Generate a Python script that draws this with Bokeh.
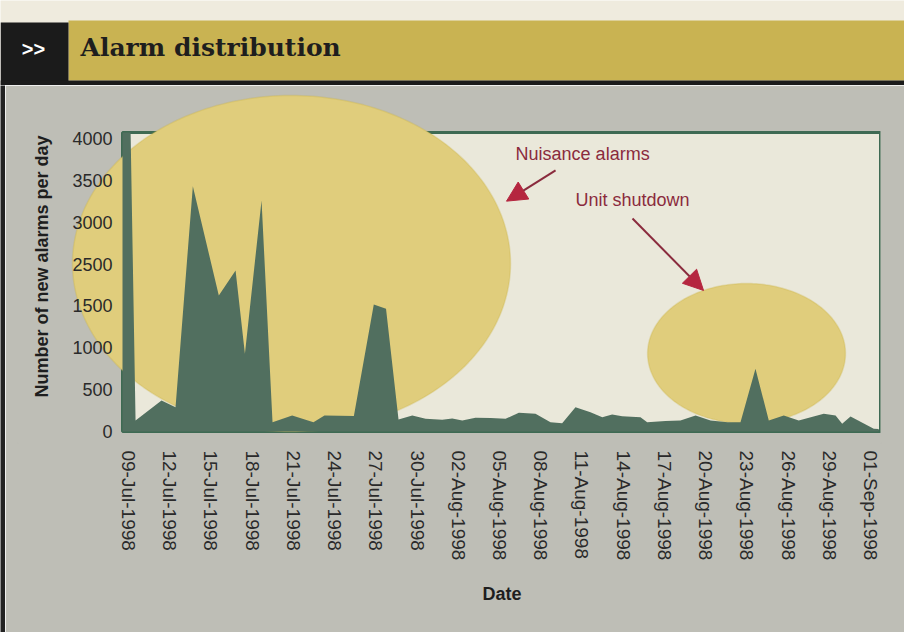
import numpy as np
import pandas as pd
from bokeh.plotting import figure
from bokeh.layouts import column, row
from bokeh.models import (Range1d, FixedTicker, DatetimeTickFormatter, PolyAnnotation,
                          Label, Arrow, NormalHead, Title)
from bokeh.embed import file_html
from bokeh.resources import INLINE

# ---------------- data ----------------
start_date = "1998-07-09"
# sample position in days after 09-Jul-1998
day_offsets = [-0.44, 0.15, 0.51, 2.4, 3.42, 4.68, 6.57, 7.79, 8.47, 9.68, 10.48, 11.91,
               13.46, 14.26, 16.4, 17.85, 18.74, 19.65, 20.65, 21.62, 22.83, 23.56, 24.29,
               25.25, 26.35, 27.44, 28.41, 29.62, 30.71, 31.56, 32.53, 33.62, 34.48, 35.2,
               35.93, 37.26, 37.75, 39.08, 40.17, 41.27, 42.36, 43.6, 44.54, 45.63, 46.6,
               47.69, 48.78, 50.6, 51.46, 51.94, 52.55, 54.24, 54.6]
new_alarms = [4080, 4080, 150, 423, 332, 3348, 1856, 2198, 1060, 3153, 127, 218,
              127, 218, 212, 1734, 1675, 164, 218, 173, 160, 177, 150,
              187, 184, 173, 255, 242, 127, 113, 332, 263, 195, 232,
              209, 195, 127, 143, 150, 218, 150, 127, 127, 856, 150,
              218, 150, 242, 218, 105, 205, 37, 34]
x_tick_dates = pd.date_range("1998-07-09", "1998-09-01", freq="3D")
y_tick_labels = ["0", "500", "1000", "1500", "2500", "3000", "3500", "4000"]
box_left_day, box_right_day = -0.44, 54.73
y_top = 4081

# ---------------- helpers ----------------
DAY = 86400000.0
t0_ms = pd.Timestamp(start_date).value / 1e6
x_ms = [t0_ms + d * DAY for d in day_offsets]

GREEN = "#516f5f"
FRAME_GREEN = "#3e6a53"
YELLOW = "#e0cd7c"
YELLOW_EDGE = "#c9b447"
GRAY = "#bebeb6"
CREAM = "#eae8da"
RED_TXT = "#8a2b3d"
RED_HEAD = "#b5263f"
FONT = "Liberation Sans"

W, H = 904, 632
HDR_H = 85
STRIP_W = 5
BOX_LEFT, BOX_RIGHT, BOX_BOTTOM, BOX_TOP = 122, 880, 431, 132
FRAME_LEFT, FRAME_TOP, FRAME_BOTTOM = 18, 90, 442
px_per_day = (BOX_RIGHT - BOX_LEFT) / (box_right_day - box_left_day)
px_per_unit = (BOX_BOTTOM - BOX_TOP) / y_top
x_start_day = box_left_day - (BOX_LEFT - FRAME_LEFT) / px_per_day
y_end = (BOX_BOTTOM - FRAME_TOP) / px_per_unit
y_start = -(FRAME_BOTTOM - BOX_BOTTOM) / px_per_unit


def blank(width, height, bg):
    f = figure(width=width, height=height, x_range=Range1d(0, width), y_range=Range1d(0, height),
               toolbar_location=None, output_backend="svg",
               x_axis_location=None, y_axis_location=None, min_border=0)
    f.grid.visible = False
    f.outline_line_color = None
    f.background_fill_color = bg
    f.border_fill_color = bg
    f.frame_align = False
    return f

# ---------------- header ----------------
hdr = blank(W, HDR_H, "#efebde")
hdr.quad(left=[68], right=[W], bottom=[5], top=[65], fill_color="#c9b352", line_color=None)
hdr.quad(left=[0], right=[68], bottom=[0], top=[63], fill_color="#1b1b1b", line_color=None)
hdr.quad(left=[0], right=[W], bottom=[0], top=[5], fill_color="#1b1b1b", line_color=None)
hdr.add_layout(Label(x=33, y=37, text=">>", text_color="white", text_font=FONT,
                     text_font_style="bold", text_font_size="20px",
                     text_align="center", text_baseline="middle"))
hdr.add_layout(Label(x=80, y=38, text="Alarm distribution", text_color="#1e1e1e",
                     text_font="DejaVu Serif", text_font_style="bold", text_font_size="25px",
                     text_align="left", text_baseline="middle"))

strip = blank(STRIP_W, H - HDR_H, "#222222")

# ---------------- main chart ----------------
def dx(d):
    return t0_ms + d * DAY

p = figure(width=W - STRIP_W, height=H - HDR_H, x_axis_type="datetime",
           x_range=Range1d(dx(x_start_day), dx(box_right_day)),
           y_range=Range1d(y_start, y_end),
           toolbar_location=None, output_backend="svg",
           min_border_left=FRAME_LEFT - STRIP_W, min_border_right=W - BOX_RIGHT,
           min_border_top=FRAME_TOP - HDR_H, min_border_bottom=H - FRAME_BOTTOM)
p.frame_align = False
p.background_fill_color = GRAY
p.border_fill_color = GRAY
p.outline_line_color = GRAY
p.outline_line_width = 3
p.grid.visible = False

# plot box (cream panel with green border)
p.quad(left=[dx(box_left_day)], right=[dx(box_right_day)], bottom=[0], top=[y_top],
       fill_color=CREAM, line_color=FRAME_GREEN, line_width=3, level="image")

# highlight ellipses (decorations, in data units)
theta = np.linspace(0, 2 * np.pi, 240)
for cx, a, cy, b in [(11.86, 15.94, 2293, 2293), (44.98, 7.2, 1065, 955)]:
    xs = list(t0_ms + (cx + a * np.cos(theta)) * DAY)
    ys = list(cy + b * np.sin(theta))
    p.add_layout(PolyAnnotation(xs=xs, ys=ys, fill_color=YELLOW, fill_alpha=1.0,
                                line_color=YELLOW_EDGE, line_width=1.5, level="underlay"))

p.varea(x=x_ms, y1=[0] * len(x_ms), y2=new_alarms, fill_color=GREEN)

# axes
y_ticks = [round(i * 4000 / 7) for i in range(len(y_tick_labels))]
p.yaxis.ticker = FixedTicker(ticks=y_ticks)
p.yaxis.major_label_overrides = {t: l for t, l in zip(y_ticks, y_tick_labels)}
p.yaxis.fixed_location = dx(box_left_day)
p.xaxis.ticker = FixedTicker(ticks=[d.value / 1e6 for d in x_tick_dates])
fmt = "%d-%b-%Y"
p.xaxis.formatter = DatetimeTickFormatter(days=fmt, months=fmt, years=fmt, hours=fmt,
                                          minutes=fmt, seconds=fmt, milliseconds=fmt,
                                          microseconds=fmt, minsec=fmt, hourmin=fmt)
p.xaxis.major_label_orientation = "vertical"

for ax in (p.xaxis, p.yaxis):
    ax.axis_line_color = None
    ax.major_tick_line_color = None
    ax.minor_tick_line_color = None
    ax.major_label_text_font = FONT
    ax.major_label_text_color = "#2a2a2a"
    ax.axis_label_text_font = FONT
    ax.axis_label_text_font_style = "bold"
    ax.axis_label_text_font_size = "18px"
    ax.axis_label_text_color = "#1e1e1e"

p.yaxis.major_label_text_font_size = "18px"
p.yaxis.major_label_standoff = 4
p.yaxis.axis_label = "Number of new alarms per day"
p.yaxis.axis_label_standoff = 17
p.xaxis.major_label_text_font_size = "19px"
p.xaxis.major_label_standoff = 2

# x-axis title, centred under the plot box (not under the wider frame)
p.add_layout(Title(text="Date", align="left", offset=(BOX_LEFT + BOX_RIGHT) / 2 - 19 - FRAME_LEFT,
                   standoff=36, text_font=FONT, text_font_style="bold",
                   text_font_size="18px", text_color="#1e1e1e"), "below")

# annotations
p.add_layout(Label(x=dx(28.17), y=3788, text="Nuisance alarms", text_color=RED_TXT,
                   text_font=FONT, text_font_size="18px", text_baseline="middle"))
p.add_layout(Label(x=dx(32.53), y=3160, text="Unit shutdown", text_color=RED_TXT,
                   text_font=FONT, text_font_size="18px", text_baseline="middle"))
for (xs_, ys_, xe_, ye_) in [(31.08, 3563, 27.51, 3144), (36.68, 2907, 41.85, 1925)]:
    p.add_layout(Arrow(end=NormalHead(size=20, fill_color=RED_HEAD, line_color=RED_HEAD),
                       x_start=dx(xs_), y_start=ys_, x_end=dx(xe_), y_end=ye_,
                       line_color=RED_TXT, line_width=2))

layout = column(hdr, row(strip, p, spacing=0), spacing=0)
open("out.html", "w").write(file_html(layout, INLINE))
